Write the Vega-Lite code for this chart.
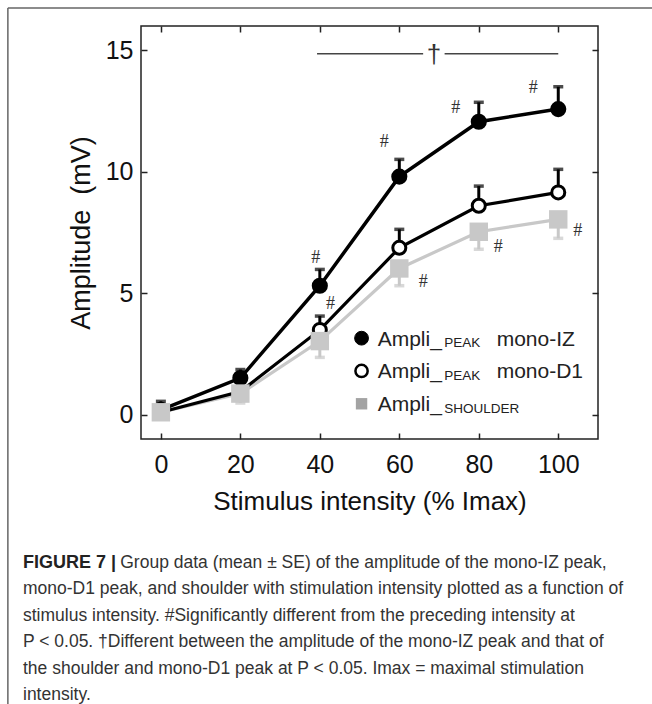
{
  "$schema": "https://vega.github.io/schema/vega-lite/v6.json",
  "width": 457,
  "height": 413,
  "autosize": "none",
  "padding": {"left": 141, "top": 26, "right": 54, "bottom": 265},
  "background": "white",
  "config": {
    "font": "Liberation Sans",
    "view": {"stroke": "#222", "strokeWidth": 1.5}
  },
  "datasets": {
    "pts": [
      {"series": "IZ", "intensity": 0, "amplitude": 0.2, "bar": 0.55},
      {"series": "IZ", "intensity": 20, "amplitude": 1.51, "bar": 1.86},
      {"series": "IZ", "intensity": 40, "amplitude": 5.31, "bar": 5.98},
      {"series": "IZ", "intensity": 60, "amplitude": 9.8, "bar": 10.51},
      {"series": "IZ", "intensity": 80, "amplitude": 12.06, "bar": 12.86},
      {"series": "IZ", "intensity": 100, "amplitude": 12.58, "bar": 13.5},
      {"series": "D1", "intensity": 0, "amplitude": 0.1, "bar": 0.3},
      {"series": "D1", "intensity": 20, "amplitude": 0.95, "bar": 1.12},
      {"series": "D1", "intensity": 40, "amplitude": 3.49, "bar": 4.06},
      {"series": "D1", "intensity": 60, "amplitude": 6.87, "bar": 7.63},
      {"series": "D1", "intensity": 80, "amplitude": 8.6, "bar": 9.41},
      {"series": "D1", "intensity": 100, "amplitude": 9.15, "bar": 10.1},
      {"series": "Shoulder", "intensity": 0, "amplitude": 0.1, "bar": -0.05},
      {"series": "Shoulder", "intensity": 20, "amplitude": 0.87, "bar": 0.48},
      {"series": "Shoulder", "intensity": 40, "amplitude": 3.03, "bar": 2.36},
      {"series": "Shoulder", "intensity": 60, "amplitude": 6.02, "bar": 5.31},
      {"series": "Shoulder", "intensity": 80, "amplitude": 7.53, "bar": 6.81},
      {"series": "Shoulder", "intensity": 100, "amplitude": 8.04, "bar": 7.26}
    ],
    "sig": [
      {"x": 38.96, "y": 6.44, "label": "#"},
      {"x": 56.2, "y": 11.24, "label": "#"},
      {"x": 74.2, "y": 12.61, "label": "#"},
      {"x": 93.7, "y": 13.46, "label": "#"},
      {"x": 42.7, "y": 4.56, "label": "#"},
      {"x": 66.0, "y": 5.45, "label": "#"},
      {"x": 84.9, "y": 6.91, "label": "#"},
      {"x": 104.9, "y": 7.57, "label": "#"}
    ],
    "bracket": [
      {"x": 39.3, "x2": 66.0, "y": 14.86},
      {"x": 71.4, "x2": 100.0, "y": 14.86}
    ],
    "one": [{}]
  },
  "title": {
    "text": "FIGURE 7 |",
    "subtitle": [
      "\u200b\u00a0\u00a0\u00a0\u00a0\u00a0\u00a0\u00a0\u00a0\u00a0\u00a0\u00a0\u00a0\u00a0\u00a0\u00a0\u00a0\u00a0\u00a0\u00a0\u00a0Group data (mean ± SE) of the amplitude of the mono-IZ peak,",
      "mono-D1 peak, and shoulder with stimulation intensity plotted as a function of",
      "stimulus intensity. #Significantly different from the preceding intensity at",
      "P < 0.05. †Different between the amplitude of the mono-IZ peak and that of",
      "the shoulder and mono-D1 peak at P < 0.05. Imax = maximal stimulation",
      "intensity."
    ],
    "orient": "bottom",
    "anchor": "start",
    "frame": "group",
    "dx": -118,
    "offset": -151,
    "font": "Liberation Sans",
    "fontSize": 18,
    "fontWeight": "bold",
    "color": "#222",
    "subtitleFont": "Liberation Sans",
    "subtitleFontSize": 17.5,
    "subtitleColor": "#333",
    "subtitleLineHeight": 26.5,
    "subtitlePadding": -18
  },
  "resolve": {"axis": {"x": "independent", "y": "independent"}},
  "layer": [
    {
      "data": {"name": "one"},
      "mark": {"type": "rule", "color": "#666", "strokeWidth": 1.5},
      "encoding": {
        "x": {"datum": -38.5, "type": "quantitative", "axis": null, "scale": {"domain": [-5, 110], "nice": false, "zero": false}},
        "x2": {"datum": 125},
        "y": {"datum": 16.74, "type": "quantitative", "axis": null, "scale": {"domain": [-1, 16], "nice": false, "zero": false}}
      }
    },
    {
      "data": {"name": "one"},
      "mark": {"type": "rule", "color": "#666", "strokeWidth": 1.5},
      "encoding": {
        "x": {"datum": -38.5, "type": "quantitative", "axis": null},
        "y": {"datum": 16.74, "type": "quantitative", "axis": null},
        "y2": {"datum": -11.91}
      }
    },
    {
      "data": {"name": "bracket"},
      "mark": {"type": "rule", "color": "#444", "strokeWidth": 1.6},
      "encoding": {
        "x": {"field": "x", "type": "quantitative", "axis": null},
        "x2": {"field": "x2"},
        "y": {"field": "y", "type": "quantitative", "axis": null}
      }
    },
    {
      "data": {"name": "one"},
      "mark": {"type": "text", "text": "†", "fontSize": 26, "color": "#333", "baseline": "middle", "dy": 1},
      "encoding": {
        "x": {"datum": 68.7, "type": "quantitative", "axis": null},
        "y": {"datum": 14.86, "type": "quantitative", "axis": null}
      }
    },
    {
      "data": {"name": "pts"},
      "mark": {"type": "rule", "strokeWidth": 3},
      "encoding": {
        "x": {"field": "intensity", "type": "quantitative",
          "axis": {"orient": "bottom", "values": [0, 20, 40, 60, 80, 100], "tickSize": -6, "tickWidth": 1.5, "tickColor": "#222", "domain": false, "grid": false,
            "labelFontSize": 25, "labelColor": "#111", "labelPadding": 19, "labelFont": "Liberation Sans",
            "title": "Stimulus intensity (% Imax)", "titleFontSize": 26, "titleFontWeight": "normal", "titleColor": "#111", "titlePadding": 11, "titleFont": "Liberation Sans"}},
        "y": {"field": "amplitude", "type": "quantitative",
          "axis": {"orient": "left", "values": [0, 5, 10, 15], "tickSize": -6, "tickWidth": 1.5, "tickColor": "#222", "domain": false, "grid": false,
            "labelFontSize": 25, "labelColor": "#111", "labelPadding": 14, "labelFont": "Liberation Sans",
            "title": "Amplitude\u00a0\u00a0(mV)", "titleFontSize": 27, "titleFontWeight": "normal", "titleColor": "#111", "titlePadding": 10, "titleFont": "Liberation Sans"}},
        "y2": {"field": "bar"},
        "color": {"field": "series", "type": "nominal", "scale": {"domain": ["IZ", "D1", "Shoulder"], "range": ["#000000", "#000000", "#c8c8c8"]}, "legend": null}
      }
    },
    {
      "data": {"name": "pts"},
      "mark": {"type": "tick", "orient": "horizontal", "size": 10, "thickness": 3.5},
      "encoding": {
        "x": {"field": "intensity", "type": "quantitative",
          "axis": {"orient": "top", "values": [0, 20, 40, 60, 80, 100], "tickSize": -6, "tickWidth": 1.5, "tickColor": "#222", "domain": false, "grid": false, "labels": false, "title": null}},
        "y": {"field": "bar", "type": "quantitative",
          "axis": {"orient": "right", "values": [0, 5, 10, 15], "tickSize": -6, "tickWidth": 1.5, "tickColor": "#222", "domain": false, "grid": false, "labels": false, "title": null}},
        "color": {"field": "series", "type": "nominal", "legend": null}
      }
    },
    {
      "data": {"name": "pts"},
      "transform": [{"filter": "datum.series === 'Shoulder'"}],
      "mark": {"type": "line", "color": "#c8c8c8", "strokeWidth": 3.2},
      "encoding": {
        "x": {"field": "intensity", "type": "quantitative", "axis": null},
        "y": {"field": "amplitude", "type": "quantitative", "axis": null}
      }
    },
    {
      "data": {"name": "pts"},
      "transform": [{"filter": "datum.series === 'IZ'"}],
      "mark": {"type": "line", "color": "#000", "strokeWidth": 3.5},
      "encoding": {
        "x": {"field": "intensity", "type": "quantitative", "axis": null},
        "y": {"field": "amplitude", "type": "quantitative", "axis": null}
      }
    },
    {
      "data": {"name": "pts"},
      "transform": [{"filter": "datum.series === 'D1'"}],
      "mark": {"type": "line", "color": "#000", "strokeWidth": 3.2},
      "encoding": {
        "x": {"field": "intensity", "type": "quantitative", "axis": null},
        "y": {"field": "amplitude", "type": "quantitative", "axis": null}
      }
    },
    {
      "data": {"name": "pts"},
      "transform": [{"filter": "datum.series === 'D1'"}],
      "mark": {"type": "point", "shape": "circle", "filled": false, "fill": "white", "stroke": "#000", "strokeWidth": 3, "size": 170, "opacity": 1},
      "encoding": {
        "x": {"field": "intensity", "type": "quantitative", "axis": null},
        "y": {"field": "amplitude", "type": "quantitative", "axis": null}
      }
    },
    {
      "data": {"name": "pts"},
      "transform": [{"filter": "datum.series === 'IZ'"}],
      "mark": {"type": "point", "shape": "circle", "filled": true, "fill": "#000", "stroke": "#000", "strokeWidth": 2, "size": 200, "opacity": 1},
      "encoding": {
        "x": {"field": "intensity", "type": "quantitative", "axis": null},
        "y": {"field": "amplitude", "type": "quantitative", "axis": null}
      }
    },
    {
      "data": {"name": "pts"},
      "transform": [{"filter": "datum.series === 'Shoulder'"}],
      "mark": {"type": "point", "shape": "square", "filled": true, "fill": "#c8c8c8", "size": 340, "opacity": 1},
      "encoding": {
        "x": {"field": "intensity", "type": "quantitative", "axis": null},
        "y": {"field": "amplitude", "type": "quantitative", "axis": null}
      }
    },
    {
      "data": {"name": "sig"},
      "mark": {"type": "text", "font": "Liberation Serif", "fontSize": 18, "color": "#333", "baseline": "middle"},
      "encoding": {
        "x": {"field": "x", "type": "quantitative", "axis": null},
        "y": {"field": "y", "type": "quantitative", "axis": null},
        "text": {"field": "label"}
      }
    },
    {
      "data": {"name": "one"},
      "mark": {"type": "point", "shape": "circle", "filled": true, "fill": "#000", "stroke": "#000", "strokeWidth": 1, "size": 190, "opacity": 1},
      "encoding": {"x": {"datum": 50.5, "type": "quantitative", "axis": null}, "y": {"datum": 3.15, "type": "quantitative", "axis": null}}
    },
    {
      "data": {"name": "one"},
      "mark": {"type": "point", "shape": "circle", "filled": false, "fill": "white", "stroke": "#000", "strokeWidth": 2.5, "size": 150, "opacity": 1},
      "encoding": {"x": {"datum": 50.5, "type": "quantitative", "axis": null}, "y": {"datum": 1.8, "type": "quantitative", "axis": null}}
    },
    {
      "data": {"name": "one"},
      "mark": {"type": "point", "shape": "square", "filled": true, "fill": "#a3a3a3", "size": 130, "opacity": 1},
      "encoding": {"x": {"datum": 50.5, "type": "quantitative", "axis": null}, "y": {"datum": 0.45, "type": "quantitative", "axis": null}}
    },
    {
      "data": {"values": [{"y": 3.15}, {"y": 1.8}, {"y": 0.45}]},
      "mark": {"type": "text", "text": "Ampli_", "fontSize": 21, "color": "#222", "align": "left", "baseline": "alphabetic", "dy": 7.5},
      "encoding": {"x": {"datum": 54.56, "type": "quantitative", "axis": null}, "y": {"field": "y", "type": "quantitative", "axis": null}}
    },
    {
      "data": {"values": [{"y": 3.15, "t": "PEAK"}, {"y": 1.8, "t": "PEAK"}, {"y": 0.45, "t": "SHOULDER"}]},
      "mark": {"type": "text", "fontSize": 13.5, "color": "#222", "align": "left", "baseline": "alphabetic", "dy": 9},
      "encoding": {"x": {"datum": 71.3, "type": "quantitative", "axis": null}, "y": {"field": "y", "type": "quantitative", "axis": null}, "text": {"field": "t"}}
    },
    {
      "data": {"values": [{"y": 3.15, "t": "mono-IZ"}, {"y": 1.8, "t": "mono-D1"}]},
      "mark": {"type": "text", "fontSize": 21, "color": "#222", "align": "left", "baseline": "alphabetic", "dy": 7.5},
      "encoding": {"x": {"datum": 84.5, "type": "quantitative", "axis": null}, "y": {"field": "y", "type": "quantitative", "axis": null}, "text": {"field": "t"}}
    }
  ]
}
